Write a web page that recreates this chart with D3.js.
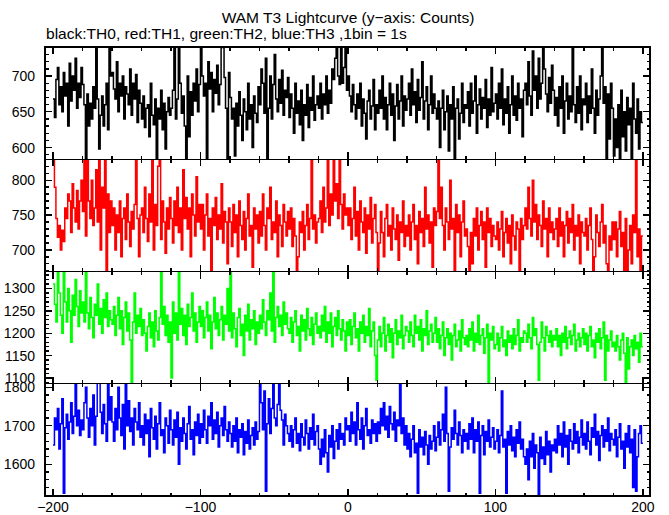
<!DOCTYPE html>
<html><head><meta charset="utf-8">
<script src="https://cdn.jsdelivr.net/npm/d3@7"></script>
<style>body{margin:0;background:#fff}svg{display:block}text{font-family:"Liberation Sans",Arial,Helvetica,sans-serif;fill:#000}</style>
</head><body><script>
// ---- data (counts per 1 s bin, t = -200 .. 199) ----
const th0 = [
668,642,695,712,660,685,650,705,672,690,630,718,665,700,680,725,655,690,670,712,
688,660,580,675,630,662,640,685,655,745,668,598,645,672,630,660,690,625,745,700,
705,682,668,720,650,690,672,700,640,685,675,660,710,645,690,668,702,635,680,662,
640,672,628,655,660,615,690,645,632,668,580,655,640,680,625,662,598,650,670,645,
655,680,742,640,668,750,690,648,672,630,585,700,615,678,645,690,665,710,650,688,
745,700,672,690,582,720,682,705,650,695,676,715,660,688,740,745,698,655,580,705,
670,640,655,588,662,630,678,645,610,668,650,625,690,640,660,600,672,648,635,685,
660,710,690,648,725,585,655,700,640,688,730,668,650,695,662,708,645,680,670,698,
642,675,655,620,690,648,665,632,680,610,660,645,688,628,670,652,700,638,660,672,
655,690,640,675,660,700,648,680,662,710,695,725,745,700,688,750,690,712,742,680,
700,672,650,688,660,640,675,655,690,630,668,648,612,665,680,640,658,695,625,660,
648,680,655,700,640,670,625,660,690,645,675,610,658,688,640,665,700,630,672,652,
668,690,645,710,660,678,635,695,652,670,720,640,665,685,625,660,700,648,675,655,
640,665,600,655,680,625,650,672,595,660,640,685,582,655,668,612,648,690,635,660,
655,678,630,690,648,665,700,620,660,682,640,670,655,695,628,668,645,712,650,662,
675,640,690,655,710,632,668,648,685,620,660,700,645,672,638,690,655,668,615,680,
690,660,720,672,645,735,680,700,655,725,668,690,748,710,675,650,698,662,715,680,
645,670,630,685,655,700,620,665,690,640,672,650,742,660,635,685,648,700,625,668,
660,690,635,672,648,710,655,620,680,645,668,700,748,662,685,582,675,612,690,655,
588,640,600,660,580,680,615,650,595,670,632,655,582,690,640,620,668,598,650,635];
const th1 = [
835,790,745,718,735,700,728,712,760,745,780,770,725,795,760,740,785,730,770,800,
755,835,720,840,770,745,800,735,760,815,740,840,700,790,760,835,665,780,725,770,
735,760,700,750,725,770,690,745,760,715,780,740,705,755,730,765,835,745,690,750,
760,725,790,745,712,780,740,835,700,765,735,820,835,715,770,740,695,760,730,775,
745,710,770,735,790,725,760,700,815,745,775,730,760,690,780,750,720,805,740,765,
730,765,700,750,780,720,745,665,760,735,775,715,750,730,795,710,755,740,680,760,
740,705,765,725,750,690,770,735,715,755,700,745,780,720,735,675,760,730,750,710,
755,720,780,735,700,760,745,790,715,740,725,770,690,750,735,705,765,740,720,755,
730,760,705,745,720,665,690,740,725,755,700,735,765,715,745,835,730,750,710,740,
745,770,725,790,740,760,835,735,780,750,840,770,795,745,835,765,730,780,750,760,
735,760,715,745,790,720,755,700,770,740,725,760,695,750,730,775,710,745,765,725,
665,710,755,725,690,745,765,720,735,700,760,730,715,750,685,740,725,770,705,735,
720,750,700,740,765,715,735,680,755,725,745,705,790,730,750,710,740,675,760,735,
755,835,745,790,735,700,760,740,715,800,730,745,665,765,725,750,690,740,770,720,
730,705,665,725,680,745,720,760,700,735,755,715,740,675,760,725,745,705,735,720,
715,740,700,730,755,690,725,745,710,735,680,750,720,700,740,730,662,745,715,735,
760,730,790,745,720,800,740,765,715,750,735,705,770,730,745,690,760,725,740,715,
730,745,705,760,720,740,690,735,755,710,745,725,765,700,735,720,750,680,740,725,
720,745,700,735,760,715,662,690,750,725,705,740,765,710,735,680,665,720,700,740,
715,740,690,730,755,705,725,670,745,662,700,735,680,750,725,835,690,730,665,720];
const th2 = [
1310,1265,1225,1340,1290,1240,1200,1335,1270,1225,1300,1250,1180,1285,1240,1320,1260,1215,1295,1245,
1270,1225,1340,1245,1210,1280,1235,1190,1265,1240,1310,1220,1255,1200,1275,1235,1290,1215,1250,1230,
1220,1260,1195,1240,1280,1210,1250,1175,1235,1270,1205,1245,1185,1080,1225,1290,1200,1240,1215,1255,
1195,1230,1200,1160,1215,1245,1190,1225,1170,1250,1205,1185,1235,1340,1220,1260,1195,1240,1180,1225,
1100,1270,1200,1245,1185,1335,1220,1255,1195,1240,1175,1265,1215,1235,1290,1205,1245,1180,1225,1260,
1215,1250,1190,1235,1270,1205,1240,1165,1225,1280,1210,1245,1195,1230,1260,1185,1240,1220,1300,1205,
1340,1190,1245,1210,1170,1235,1255,1195,1220,1150,1240,1205,1265,1185,1230,1210,1250,1175,1225,1200,
1240,1210,1275,1225,1195,1250,1230,1290,1205,1340,1180,1235,1260,1215,1240,1195,1270,1220,1245,1210,
1200,1235,1180,1225,1250,1195,1215,1160,1240,1205,1230,1185,1255,1210,1195,1235,1175,1220,1245,1200,
1215,1190,1240,1205,1260,1180,1225,1200,1245,1170,1215,1235,1195,1250,1210,1185,1230,1205,1160,1225,
1195,1230,1175,1215,1245,1190,1210,1160,1225,1200,1240,1180,1215,1195,1255,1170,1205,1225,1150,1095,
1185,1215,1170,1200,1235,1160,1195,1220,1180,1210,1145,1200,1230,1175,1205,1190,1240,1165,1195,1215,
1205,1180,1225,1195,1170,1240,1200,1215,1185,1230,1160,1210,1195,1250,1175,1205,1220,1180,1200,1235,
1180,1210,1165,1195,1225,1150,1190,1210,1175,1200,1140,1195,1220,1170,1185,1205,1160,1230,1190,1175,
1195,1170,1210,1185,1225,1160,1200,1180,1240,1175,1195,1210,1155,1190,1220,1090,1200,1185,1215,1165,
1175,1200,1160,1190,1215,1170,1185,1150,1205,1180,1195,1165,1210,1175,1195,1230,1160,1190,1180,1205,
1200,1180,1220,1190,1165,1235,1195,1210,1175,1095,1180,1225,1190,1160,1215,1195,1180,1205,1170,1195,
1185,1210,1170,1195,1150,1200,1180,1215,1165,1190,1205,1175,1195,1220,1160,1185,1200,1170,1190,1210,
1175,1200,1160,1195,1215,1170,1185,1145,1200,1180,1210,1165,1190,1225,1095,1195,1160,1185,1205,1170,
1180,1160,1195,1170,1140,1185,1200,1155,1090,1190,1120,1170,1185,1150,1195,1165,1180,1135,1200,1170];
const th3 = [
1650,1720,1690,1745,1640,1705,1770,1525,1695,1730,1665,1710,1760,1680,1725,1810,1700,1740,1675,1715,
1690,1760,1800,1720,1670,1745,1700,1780,1650,1725,1810,1810,1735,1680,1755,1705,1660,1810,1715,1775,
1710,1660,1745,1690,1800,1720,1675,1755,1640,1815,1700,1765,1685,1720,1650,1745,1710,1690,1760,1670,
1700,1650,1730,1680,1715,1620,1745,1695,1665,1725,1640,1705,1760,1675,1690,1630,1720,1700,1655,1740,
1690,1650,1715,1670,1735,1600,1695,1660,1720,1680,1640,1705,1750,1665,1690,1625,1710,1675,1730,1655,
1705,1670,1740,1690,1655,1725,1700,1760,1665,1715,1680,1735,1645,1700,1720,1675,1750,1690,1660,1710,
1680,1645,1700,1660,1720,1630,1690,1670,1705,1625,1685,1655,1715,1640,1675,1695,1650,1710,1665,1685,
1815,1760,1690,1790,1530,1705,1770,1680,1745,1810,1720,1700,1755,1815,1740,1715,1650,1730,1700,1680,
1660,1700,1645,1690,1720,1655,1680,1635,1705,1670,1650,1715,1680,1640,1695,1665,1730,1650,1685,1700,
1640,1600,1665,1620,1690,1630,1580,1675,1645,1700,1615,1660,1690,1640,1705,1665,1680,1650,1720,1690,
1700,1660,1735,1680,1710,1650,1760,1690,1665,1720,1640,1700,1745,1675,1690,1655,1715,1680,1705,1660,
1710,1680,1745,1700,1760,1690,1725,1670,1750,1705,1690,1735,1660,1715,1700,1810,1680,1720,1650,1700,
1640,1680,1620,1665,1700,1630,1655,1525,1690,1645,1670,1625,1685,1650,1600,1675,1640,1660,1700,1635,
1670,1710,1650,1690,1730,1660,1800,1680,1530,1645,1695,1665,1740,1680,1650,1710,1675,1630,1690,1660,
1680,1640,1705,1665,1720,1630,1690,1660,1710,1525,1675,1700,1625,1685,1660,1715,1645,1670,1695,1640,
1660,1690,1630,1675,1790,1645,1665,1525,1685,1650,1700,1635,1670,1620,1690,1655,1710,1640,1665,1620,
1600,1640,1560,1660,1620,1680,1590,1650,1630,1520,1670,1615,1645,1600,1685,1625,1660,1580,1650,1635,
1665,1630,1700,1650,1680,1620,1710,1645,1675,1600,1690,1660,1640,1705,1655,1685,1630,1670,1715,1650,
1680,1640,1710,1660,1625,1695,1670,1730,1650,1685,1610,1675,1700,1645,1690,1660,1720,1635,1680,1665,
1650,1690,1620,1670,1705,1640,1660,1590,1680,1645,1700,1630,1665,1540,1690,1530,1620,1680,1700,1655];

const binStart = -200, binWidth = 1;
const seriesList = [th0, th1, th2, th3];
const seriesColors = ["#000000", "#ff0000", "#00ff00", "#0000ff"];
const yDomains = [[583.6, 740.6], [669, 830], [1087, 1338], [1518, 1809]];
const yMajorTicks = [[600, 650, 700], [700, 750, 800], [1100, 1150, 1200, 1250, 1300], [1600, 1700, 1800]];
const yMinorStep = [10, 10, 10, 20];
const xMajorTicks = [-200, -100, 0, 100, 200];
const xMinorStep = 20;
const xDomain = [-205.4, 204.8];
const titleText = "WAM T3 Lightcurve (y\u2212axis: Counts)";
const subtitleText = "black:TH0, red:TH1, green:TH2, blue:TH3 ,1bin = 1s";

// ---- layout ----
const W = 669, H = 515;
const plotL = 45, plotR = 650, plotT = 47, plotB = 496;
const panelH = (plotB - plotT) / 4;
const svg = d3.select("body").append("svg").attr("width", W).attr("height", H);
const x = d3.scaleLinear().domain(xDomain).range([plotL, plotR]);

function fitText(sel, target, base) {
  sel.style("font-size", base + "px");
  const w = sel.node().getComputedTextLength();
  sel.style("font-size", (base * target / w).toFixed(2) + "px");
}
const t1 = svg.append("text").attr("x", 348).attr("y", 23).attr("text-anchor", "middle").text(titleText);
fitText(t1, 253, 14);
const t2 = svg.append("text").attr("x", 46).attr("y", 39).text(subtitleText);
fitText(t2, 361, 14);

const majLen = 7, minLen = 3.5;
seriesList.forEach((vals, p) => {
  const y0 = plotT + p * panelH, y1 = y0 + panelH;
  const y = d3.scaleLinear().domain(yDomains[p]).range([y1, y0]);
  const cid = "clip" + p;
  svg.append("clipPath").attr("id", cid).append("rect")
    .attr("x", plotL).attr("y", y0).attr("width", plotR - plotL).attr("height", panelH);
  const pts = vals.map((v, i) => [binStart + i * binWidth, v]);
  pts.push([binStart + vals.length * binWidth, vals[vals.length - 1]]);
  const line = d3.line().x(d => x(d[0])).y(d => y(d[1])).curve(d3.curveStepAfter);
  svg.append("path").attr("d", line(pts)).attr("fill", "none")
    .attr("stroke", seriesColors[p]).attr("stroke-width", 1.5)
    .attr("stroke-linejoin", "miter")
    .attr("clip-path", `url(#${cid})`);

  const g = svg.append("g").attr("stroke", "#000").attr("stroke-width", 1.3).attr("fill", "none")
    .attr("shape-rendering", "crispEdges");
  g.append("rect").attr("x", plotL).attr("y", y0).attr("width", plotR - plotL).attr("height", panelH);
  d3.range(-200, 201, xMinorStep).forEach(t => {
    const L = xMajorTicks.includes(t) ? majLen : minLen;
    g.append("line").attr("x1", x(t)).attr("x2", x(t)).attr("y1", y1).attr("y2", y1 - L);
    g.append("line").attr("x1", x(t)).attr("x2", x(t)).attr("y1", y0).attr("y2", y0 + L);
  });
  const d = yDomains[p], st = yMinorStep[p];
  d3.range(Math.ceil(d[0] / st) * st, d[1], st).forEach(v => {
    const L = yMajorTicks[p].includes(v) ? majLen : minLen;
    g.append("line").attr("x1", plotL).attr("x2", plotL + L).attr("y1", y(v)).attr("y2", y(v));
    g.append("line").attr("x1", plotR).attr("x2", plotR - L).attr("y1", y(v)).attr("y2", y(v));
  });
  yMajorTicks[p].forEach(v => {
    svg.append("text").attr("x", 35).attr("y", y(v) + 5).attr("text-anchor", "end")
      .style("font-size", "14px").text(v);
  });
});
xMajorTicks.forEach(t => {
  svg.append("text").attr("x", x(t)).attr("y", 512).attr("text-anchor", "middle")
    .style("font-size", "14px").text(t < 0 ? "\u2212" + Math.abs(t) : t);
});
</script></body></html>
